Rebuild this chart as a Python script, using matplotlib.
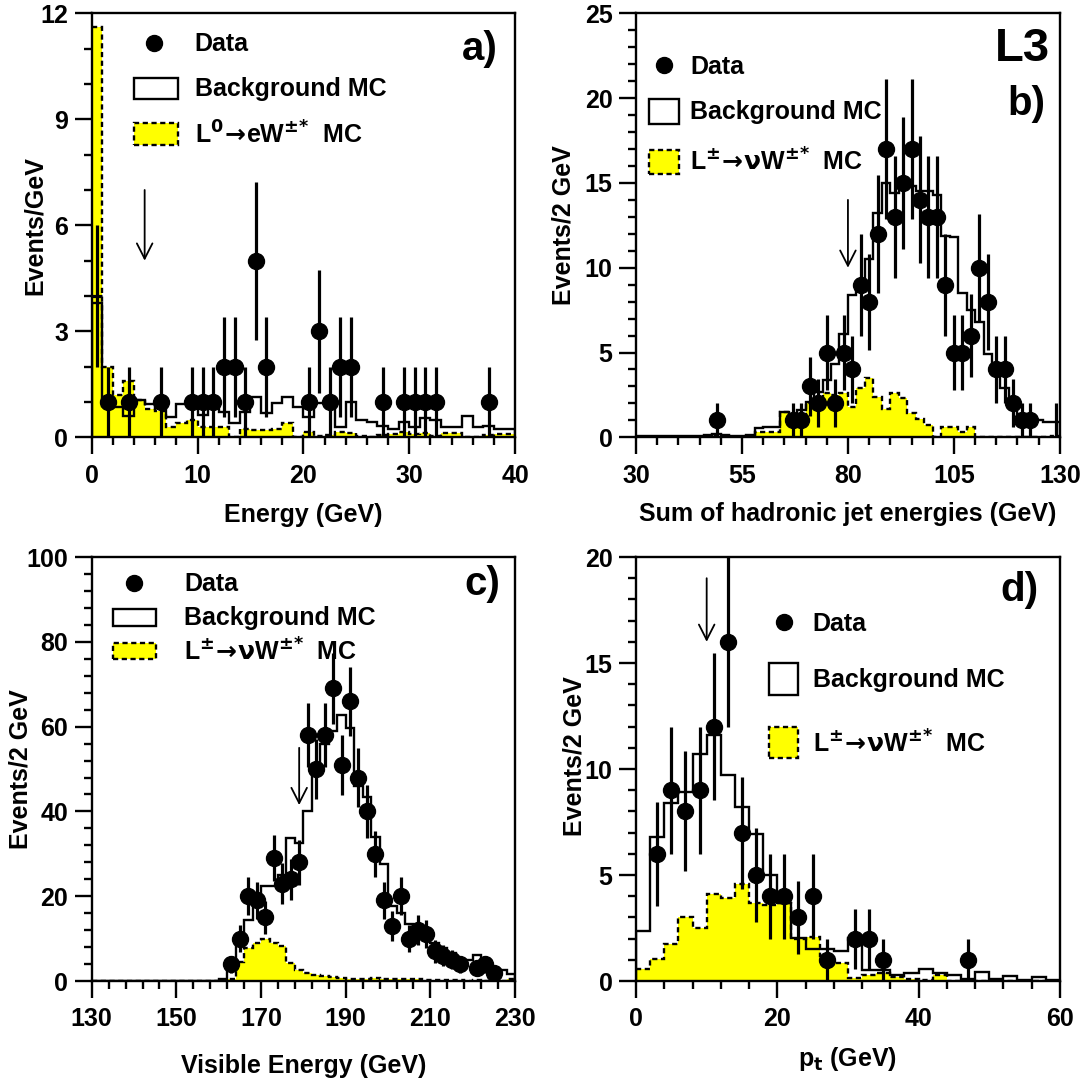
import numpy as np
import matplotlib
matplotlib.use("Agg")
import matplotlib.pyplot as plt
from matplotlib.patches import Rectangle

plt.rcParams['font.family'] = ['Liberation Sans', 'DejaVu Sans']
plt.rcParams['font.weight'] = 'bold'
plt.rcParams['axes.labelweight'] = 'bold'
plt.rcParams['mathtext.fontset'] = 'dejavusans'

# ---- panel a: energy, 1 GeV bins
a_edges = np.arange(0, 41, 1)
a_bg = [3.8, 0.9, 0.87, 0.6, 1.05, 0.94, 0.87, 0.58, 0.94, 1.06,
        0.63, 0.85, 0.73, 0.4, 0.73, 1.15, 0.7, 0.96, 1.13, 0.87,
        0.58, 0.96, 0.96, 0.3, 1.0, 0.5, 0.44, 0.33, 0.25, 0.44,
        0.3, 0.55, 0.5, 0.3, 0.3, 0.6, 0.3, 0.33, 0.23, 0.23]
a_sig = [11.6, 2.0, 1.2, 1.6, 1.05, 0.8, 0.75, 0.3, 0.4, 0.5,
         0.3, 0.3, 0.3, 0.02, 0.23, 0.2, 0.2, 0.25, 0.4, 0.02,
         0.15, 0.03, 0.07, 0.15, 0.13, 0.03, 0.02, 0.07, 0.1, 0.15,
         0.1, 0.13, 0.03, 0.13, 0.13, 0.02, 0.02, 0.08, 0.1, 0.1]
a_x = [1.5, 3.5, 6.5, 9.5, 10.5, 11.5, 12.5, 13.5, 14.5, 15.5, 16.5,
       20.5, 21.5, 22.5, 23.5, 24.5, 27.5, 29.5, 30.5, 31.5, 32.5, 37.5]
a_n = [1, 1, 1, 1, 1, 1, 2, 2, 1, 5, 2, 1, 3, 1, 2, 2, 1, 1, 1, 1, 1, 1]
a_hidden = ([0.5], [4])

# ---- panel b: hadronic jet energies, 2 GeV bins
b_edges = np.arange(30, 131, 2)
b_bg = [0.05, 0.05, 0.1, 0.05, 0.05, 0.1, 0.1, 0.05, 0.15, 0.2,
        0.15, 0.1, 0.05, 0.15, 0.55, 0.6, 0.6, 1.5, 1.1, 1.6,
        2.1, 2.7, 3.4, 4.3, 6.1, 8.4, 9.0, 10.5, 13.2, 15.0,
        14.4, 15.1, 14.8, 14.5, 14.5, 14.3, 11.9, 11.8, 8.5, 7.5,
        6.8, 4.9, 4.0, 2.9, 2.0, 1.4, 1.2, 1.0, 0.9, 0.9]
b_sig = [0, 0, 0, 0, 0, 0, 0, 0, 0, 0.1,
         0, 0, 0, 0, 0.3, 0.3, 0.3, 1.5, 1.3, 1.2,
         2.0, 2.0, 2.6, 2.5, 2.6, 1.8, 2.9, 3.5, 2.4, 1.7,
         2.6, 2.3, 1.45, 1.1, 0.75, 0, 0.6, 0.6, 0.3, 0.6,
         0, 0, 0, 0, 0, 0, 0, 0, 0, 0.05]
b_x = [49, 67, 69, 71, 73, 75, 77, 79, 81, 83, 85, 87, 89, 91, 93,
       95, 97, 99, 101, 103, 105, 107, 109, 111, 113, 115, 117, 119, 121, 123]
b_n = [1, 1, 1, 3, 2, 5, 2, 5, 4, 9, 8, 12, 17, 13, 15,
       17, 14, 13, 13, 9, 5, 5, 6, 10, 8, 4, 4, 2, 1, 1]
b_hidden = ([129], [1])

# ---- panel c: visible energy, 2 GeV bins
c_edges = np.arange(130, 231, 2)
c_bg = [0] * 15 + [0.6, 4.5, 10, 14.5, 17.5, 22.5, 22.5, 25, 33.8, 32.5,
                   40, 50.5, 56, 59, 62.7, 59.6, 46, 43.3, 34, 27.6,
                   17.6, 16, 13.5, 13.3, 11, 9, 7.8, 6.5, 5, 5,
                   6.2, 4.2, 3, 2.5, 1.7]
c_sig = [0] * 15 + [0.0, 0.5, 4.5, 7.7, 8.9, 9.8, 8.9, 8.2, 4.2, 2.6,
                    1.8, 1.4, 1.2, 1.0, 0.8, 0.6, 0.4, 0.5, 0.7, 0.6,
                    0.5, 0.5, 0.6, 0.4, 0.3, 0.2, 0.2, 0.15, 0.2, 0.1,
                    0.15, 0.1, 0.1, 0.05, 0.5]
c_x = [163, 165, 167, 169, 171, 173, 175, 177, 179, 181, 183, 185, 187, 189,
       191, 193, 195, 197, 199, 201, 203, 205, 207, 209, 211, 213, 215, 217,
       221, 223, 225]
c_n = [4, 10, 20, 19, 15, 29, 23, 24, 28, 58, 50, 58, 69, 51,
       66, 48, 40, 30, 19, 13, 20, 10, 12, 11, 7, 6, 5, 4,
       3, 4, 2]

# ---- panel d: pt, 2 GeV bins
d_edges = np.arange(0, 61, 2)
d_bg = [2.35, 6.8, 8.4, 8.9, 10.7, 11.6, 9.7, 8.2, 6.95, 5.0,
        3.7, 2.05, 1.5, 1.5, 1.4, 2.05, 0.5, 0.5, 0.3, 0.4,
        0.55, 0.4, 0.3, 0.1, 0.42, 0.1, 0.22, 0.05, 0.17, 0.05]
d_sig = [0.55, 1.05, 1.75, 3.0, 2.5, 4.1, 3.9, 4.6, 3.7, 3.6,
         3.7, 2.0, 2.1, 1.2, 0.85, 0.15, 0.3, 0.4, 0.2, 0.1,
         0.05, 0.3, 0, 0, 0, 0, 0, 0, 0, 0]
d_x = [3, 5, 7, 9, 11, 13, 15, 17, 19, 21, 23, 25, 27, 31, 33, 35, 47]
d_n = [6, 9, 8, 9, 12, 16, 7, 5, 4, 4, 3, 4, 1, 2, 2, 1, 1]

sig_a = r'L$^{\mathbf{0}}\!\rightarrow\!$eW$^{\pm{*}}$  MC'
sig_c = r'L$^{\pm}\!\rightarrow\!\mathrm{\nu}$W$^{\pm{*}}$  MC'

LW = 1.7
FS = 18
DASH = (0, (2.2, 1.5))

fig = plt.figure(figsize=(10.83, 10.82), dpi=100)


def panel(rect, edges, bg, sig, x, n, xlim, ylim, xmaj, xmin, ymaj, ymin,
          xlabel, ylabel, ylab_xy, xlab_y, arrow, leg, tag):
    ax = fig.add_axes(rect)
    ax.stairs(sig, edges, fill=True, color='#ffff00', lw=0, zorder=1)
    ax.stairs(sig, edges, color='k', lw=LW, ls=DASH, baseline=None, zorder=2)
    ax.stairs(bg, edges, color='k', lw=LW, zorder=3)
    n = np.array(n, float)
    ax.errorbar(x, n, yerr=np.sqrt(n), fmt='o', color='k', ms=11.5,
                elinewidth=2.3, capsize=0, zorder=5)
    ax.set_xlim(*xlim)
    ax.set_ylim(*ylim)
    ax.set_xticks(np.arange(xlim[0], xlim[1] + 0.01, xmaj))
    ax.set_xticks(np.arange(xlim[0], xlim[1] + 0.01, xmin), minor=True)
    ax.set_yticks(np.arange(ylim[0], ylim[1] + 0.01, ymaj))
    ax.set_yticks(np.arange(ylim[0], ylim[1] + 0.01, ymin), minor=True)
    ax.tick_params(which='both', direction='out', width=LW, top=False, right=False,
                   labelsize=FS)
    ax.tick_params(which='major', length=12)
    ax.tick_params(which='minor', length=6)
    ax.tick_params(axis='x', pad=7)
    ax.tick_params(axis='y', pad=5)
    for s in ax.spines.values():
        s.set_linewidth(LW)
    ax.set_xlabel(xlabel, fontsize=FS)
    ax.set_ylabel(ylabel, fontsize=FS)
    ax.xaxis.set_label_coords(0.5, xlab_y)
    ax.yaxis.set_label_coords(*ylab_xy)
    ax.annotate('', xy=(arrow[0], arrow[2]), xytext=(arrow[0], arrow[1]),
                arrowprops=dict(arrowstyle='->,head_length=0.55,head_width=0.28',
                                lw=1.3, color='k', mutation_scale=20,
                                shrinkA=0, shrinkB=0), zorder=4)
    # hand-drawn legend
    (mx, my), tx, (bx, by0, by1), (sy0, sy1), bw, ty = leg
    ax.plot([mx], [my], 'o', color='k', ms=11.5, transform=ax.transAxes, clip_on=False)
    ax.add_patch(Rectangle((bx, by0), bw, by1 - by0, transform=ax.transAxes,
                           fc='white', ec='k', lw=LW, zorder=6))
    ax.add_patch(Rectangle((bx, sy0), bw, sy1 - sy0, transform=ax.transAxes,
                           fc='#ffff00', ec='k', lw=LW, ls=DASH, zorder=6))
    ax.text(tx, ty[0], 'Data', transform=ax.transAxes, fontsize=FS, va='center')
    ax.text(tx, ty[1], 'Background MC', transform=ax.transAxes, fontsize=FS, va='center')
    ax.text(tx, ty[2], sig_a if tag[0] == 'a)' else sig_c, transform=ax.transAxes,
            fontsize=FS, va='center')
    for t, tx2, ty2, fs in tag[1:]:
        ax.text(tx2, ty2, t, transform=ax.transAxes, fontsize=fs, ha='right', va='center')
    return ax


ax_a = panel([0.0847, 0.5958, 0.3909, 0.3919], a_edges, a_bg, a_sig, a_x, a_n,
             (0, 40), (0, 12), 10, 2, 3, 1, 'Energy (GeV)', 'Events/GeV',
             (-0.107, 0.5), -0.155, (5, 7, 5),
             ((0.148, 0.93), 0.243, (0.0995, 0.797, 0.848), (0.689, 0.741), 0.1035,
              (0.928, 0.822, 0.713)),
             ('a)', ('a)', 0.958, 0.915, 29)))
ax_a.errorbar(a_hidden[0], a_hidden[1], yerr=np.sqrt(a_hidden[1]), xerr=0.5,
              fmt='none', ecolor='k', elinewidth=2.3, capsize=0, zorder=5)

ax_b = panel([0.5873, 0.5958, 0.3913, 0.3919], b_edges, b_bg, b_sig, b_x, b_n,
             (30, 130), (0, 25), 25, 5, 5, 1, 'Sum of hadronic jet energies (GeV)',
             'Events/2 GeV', (-0.142, 0.5), -0.152, (80, 14, 10),
             ((0.065, 0.877), 0.1276, (0.030, 0.740, 0.797), (0.621, 0.678), 0.0706,
              (0.873, 0.767, 0.649)),
             ('b)', ('L3', 0.977, 0.917, 34), ('b)', 0.966, 0.787, 29)))
ax_b.errorbar(b_hidden[0], b_hidden[1], yerr=np.sqrt(b_hidden[1]),
              fmt='none', ecolor='k', elinewidth=2.3, capsize=0, zorder=5)

ax_c = panel([0.0847, 0.0933, 0.3909, 0.3919], c_edges, c_bg, c_sig, c_x, c_n,
             (130, 230), (0, 100), 20, 4, 20, 4, 'Visible Energy (GeV)',
             'Events/2 GeV', (-0.141, 0.5), -0.172, (179, 55, 41.5),
             ((0.101, 0.939), 0.219, (0.0505, 0.838, 0.877), (0.759, 0.798), 0.101,
              (0.937, 0.857, 0.776)),
             ('c)', ('c)', 0.964, 0.937, 29)))

ax_d = panel([0.5873, 0.0933, 0.3913, 0.3919], d_edges, d_bg, d_sig, d_x, d_n,
             (0, 60), (0, 20), 20, 4, 5, 1, 'p$_\\mathbf{t}$ (GeV)',
             'Events/2 GeV', (-0.118, 0.53), -0.151, (10, 19, 16),
             ((0.349, 0.847), 0.417, (0.313, 0.675, 0.749), (0.525, 0.599), 0.070,
              (0.842, 0.711, 0.560)),
             ('d)', ('d)', 0.950, 0.922, 29)))

fig.savefig('out.png', dpi=100)
